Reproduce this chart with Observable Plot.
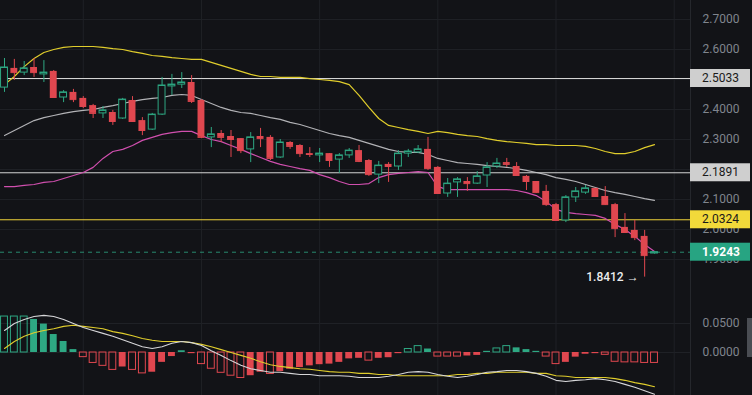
<!DOCTYPE html>
<html><head><meta charset="utf-8">
<script src="https://cdn.jsdelivr.net/npm/d3@7"></script>
<script src="https://cdn.jsdelivr.net/npm/@observablehq/plot@0.6"></script>
<style>
html,body{margin:0;padding:0;background:#121317;}
#wrap{position:relative;width:752px;height:395px;overflow:hidden;background:#121317;}
#wrap svg{position:absolute;left:0;display:block;}
</style></head><body><div id="wrap"></div>
<script>
// ---- data ----
const open  = [2.473,2.537,2.523,2.540,2.517,2.527,2.440,2.457,2.437,2.413, 2.387,2.390,2.370,2.430,2.363,2.333,2.383,2.477,2.483,2.490, 2.430,2.307,2.320,2.310,2.303,2.267,2.310,2.307,2.240,2.290, 2.280,2.253,2.247,2.253,2.233,2.247,2.263,2.230,2.183,2.217, 2.210,2.253,2.257,2.267,2.207,2.120,2.157,2.160,2.153,2.180, 2.210,2.223,2.210,2.177,2.160,2.127,2.083,2.030,2.107,2.123, 2.137,2.110,2.083,2.007,1.997,1.977,1.920];
const high  = [2.570,2.567,2.560,2.570,2.563,2.530,2.463,2.467,2.443,2.417, 2.410,2.397,2.437,2.443,2.373,2.387,2.507,2.517,2.523,2.513, 2.433,2.340,2.330,2.330,2.303,2.323,2.337,2.313,2.300,2.293, 2.283,2.273,2.270,2.253,2.253,2.270,2.280,2.233,2.227,2.223, 2.263,2.267,2.280,2.307,2.210,2.170,2.173,2.173,2.193,2.223, 2.237,2.237,2.223,2.180,2.160,2.147,2.087,2.113,2.140,2.147, 2.137,2.143,2.087,2.053,2.030,1.997,1.925];
const low   = [2.457,2.497,2.513,2.507,2.490,2.437,2.423,2.423,2.403,2.370, 2.370,2.347,2.367,2.357,2.313,2.330,2.380,2.447,2.470,2.420, 2.303,2.273,2.290,2.240,2.253,2.223,2.273,2.230,2.237,2.267, 2.240,2.240,2.223,2.207,2.187,2.237,2.223,2.177,2.153,2.157, 2.197,2.240,2.253,2.197,2.117,2.107,2.107,2.127,2.150,2.140, 2.203,2.207,2.177,2.130,2.120,2.077,2.027,2.023,2.090,2.117, 2.107,2.080,1.973,1.987,1.963,1.8412,1.918];
const close = [2.540,2.523,2.537,2.523,2.523,2.440,2.457,2.433,2.410,2.387, 2.397,2.360,2.433,2.360,2.330,2.383,2.480,2.483,2.490,2.427, 2.307,2.317,2.307,2.300,2.263,2.307,2.303,2.237,2.290,2.277, 2.253,2.250,2.253,2.230,2.247,2.263,2.227,2.183,2.213,2.210, 2.253,2.260,2.267,2.203,2.120,2.153,2.167,2.153,2.177,2.207, 2.220,2.217,2.180,2.160,2.123,2.083,2.030,2.107,2.127,2.137, 2.110,2.083,2.003,1.990,1.973,1.913,1.9243];

const bbUpper = [2.483,2.510,2.543,2.570,2.590,2.600,2.607,2.610,2.610,2.610, 2.607,2.603,2.600,2.593,2.587,2.580,2.577,2.573,2.570,2.567, 2.567,2.557,2.547,2.537,2.527,2.517,2.510,2.510,2.507,2.507, 2.507,2.503,2.500,2.497,2.493,2.483,2.447,2.407,2.370,2.347, 2.340,2.333,2.327,2.320,2.327,2.323,2.317,2.313,2.310,2.303, 2.297,2.293,2.290,2.287,2.283,2.283,2.280,2.280,2.280,2.277, 2.270,2.260,2.253,2.253,2.260,2.273,2.283];
const bbMid   = [2.313,2.330,2.347,2.363,2.373,2.380,2.387,2.393,2.397,2.400, 2.407,2.413,2.420,2.427,2.433,2.437,2.440,2.447,2.450,2.447, 2.433,2.420,2.407,2.397,2.390,2.387,2.380,2.373,2.367,2.357, 2.350,2.340,2.330,2.320,2.313,2.307,2.297,2.287,2.277,2.267, 2.260,2.257,2.257,2.250,2.237,2.230,2.223,2.220,2.217,2.213, 2.210,2.207,2.203,2.197,2.190,2.183,2.173,2.167,2.160,2.150, 2.140,2.130,2.123,2.117,2.110,2.103,2.097];
const bbLower = [2.143,2.143,2.147,2.150,2.157,2.160,2.170,2.180,2.190,2.207, 2.237,2.260,2.267,2.280,2.297,2.307,2.317,2.323,2.327,2.327, 2.313,2.300,2.293,2.280,2.267,2.253,2.240,2.227,2.217,2.210, 2.203,2.197,2.183,2.173,2.160,2.150,2.150,2.153,2.173,2.183, 2.187,2.190,2.193,2.190,2.143,2.133,2.133,2.133,2.133,2.133, 2.133,2.133,2.130,2.123,2.113,2.093,2.067,2.057,2.053,2.050, 2.047,2.037,2.017,2.000,1.977,1.950,1.927];

const macdLine   = [0.038,0.050,0.057,0.062,0.064,0.062,0.057,0.050,0.043,0.038, 0.033,0.028,0.022,0.016,0.010,0.007,0.010,0.016,0.019,0.017, 0.012,0.003,-0.005,-0.014,-0.022,-0.028,-0.031,-0.034,-0.034,-0.036, -0.038,-0.038,-0.040,-0.040,-0.040,-0.041,-0.043,-0.043,-0.043,-0.041, -0.038,-0.034,-0.033,-0.034,-0.038,-0.041,-0.043,-0.041,-0.038,-0.034, -0.033,-0.031,-0.031,-0.033,-0.036,-0.041,-0.048,-0.050,-0.048,-0.047, -0.045,-0.047,-0.050,-0.055,-0.060,-0.066,-0.072];
const signalLine = [0.007,0.019,0.028,0.034,0.038,0.041,0.045,0.047,0.045,0.043, 0.041,0.036,0.033,0.029,0.024,0.021,0.019,0.019,0.019,0.017, 0.014,0.010,0.005,0.000,-0.005,-0.010,-0.016,-0.021,-0.024,-0.026, -0.028,-0.029,-0.031,-0.033,-0.034,-0.034,-0.036,-0.036,-0.038,-0.038, -0.040,-0.040,-0.040,-0.040,-0.040,-0.040,-0.038,-0.038,-0.036,-0.036, -0.034,-0.034,-0.034,-0.034,-0.036,-0.036,-0.040,-0.041,-0.043,-0.043, -0.043,-0.043,-0.045,-0.048,-0.052,-0.055,-0.059];
const macdHist   = [0.062,0.062,0.062,0.057,0.049,0.031,0.019,0.005,-0.008,-0.018, -0.023,-0.030,-0.025,-0.030,-0.036,-0.034,-0.017,-0.007,0.003,-0.002, -0.020,-0.028,-0.035,-0.040,-0.044,-0.040,-0.034,-0.037,-0.033,-0.029, -0.026,-0.023,-0.021,-0.020,-0.017,-0.011,-0.010,-0.014,-0.010,-0.009, -0.002,0.006,0.011,0.006,-0.007,-0.007,-0.007,-0.006,-0.005,0.002, 0.007,0.011,0.008,0.005,0.002,-0.007,-0.020,-0.017,-0.008,-0.003, -0.002,-0.004,-0.016,-0.017,-0.017,-0.018,-0.018];

const priceGrid   = [2.7,2.6,2.5,2.4,2.3,2.2,2.1,2.0,1.9];
const priceLabels = [2.7,2.6,2.4,2.3,2.1,2.0,1.9];   // 2.5000 and 2.2000 are hidden under level boxes
const macdTicks   = [0.05,0];
const gridIdx     = [8,20,32,44,56,68];
const levelValues = [2.5033,2.1891,2.0324,1.9243];
const levelLabels = ["2.5033","2.1891","2.0324","1.9243"];
const lowValue = 1.8412, lowIndex = 65, lowLabel = "1.8412 →";

// ---- styles ----
const W = 752, MR = 62;
const BG = "#121317", RED = "#e0474f", GREEN = "#2ea883", GRID = "#1f2126", TXT = "#80858e";
const levelFill = ["#cfcfcf","#cfcfcf","#f2d93a","#27a482"];
const levelText = ["#1a1a1a","#1a1a1a","#1a1a1a","#ffffff"];
const levelStroke = ["#d4d4d4","#d4d4d4","#f0d43a","#2ea883"];
const FONT = "Roboto, Arial, sans-serif";

const candles = open.map((o,i)=>({i,o,h:high[i],l:low[i],c:close[i],up:close[i]>=o}));
const ups = candles.filter(d=>d.up), downs = candles.filter(d=>!d.up);
const series = (arr)=>arr.map((v,i)=>({i,v}));
const hist = macdHist.map((v,i)=>({i,v,hollow: i===0 || Math.abs(v) >= Math.abs(macdHist[i-1])}));
const hw = 0.35;
const levels = levelValues.map((v,k)=>({v,k}));

const xOpt = {type:"linear",domain:[0,66],range:[4,654],axis:null};

const main = Plot.plot({
  width: W, height: 300, marginTop:0, marginBottom:0, marginLeft:0, marginRight:MR,
  style:{background:"transparent", fontFamily:FONT, fontSize:"12px", overflow:"visible"},
  x: xOpt,
  y: {domain:[1.76333,2.76333], range:[300,0], axis:null},
  marks: [
    Plot.ruleY(priceGrid,{stroke:GRID}),
    Plot.ruleX(gridIdx,{stroke:GRID}),
    Plot.ruleY(levels.filter(d=>d.k<3),{y:"v",stroke:d=>levelStroke[d.k],strokeWidth:1}),
    Plot.ruleY(levels.filter(d=>d.k===3),{y:"v",stroke:GREEN,strokeOpacity:0.8,strokeDasharray:"4,4"}),
    Plot.line(series(bbUpper),{x:"i",y:"v",stroke:"#e0cd2c",strokeWidth:1.2}),
    Plot.line(series(bbMid),{x:"i",y:"v",stroke:"#cfcfd2",strokeWidth:1.1,strokeOpacity:0.85}),
    Plot.line(series(bbLower),{x:"i",y:"v",stroke:"#d04fae",strokeWidth:1.2}),
    Plot.ruleX(downs,{x:"i",y1:"l",y2:"h",stroke:RED}),
    Plot.ruleX(ups,{x:"i",y1:"l",y2:"h",stroke:GREEN}),
    Plot.rect(downs,{x1:d=>d.i-hw,x2:d=>d.i+hw,y1:"o",y2:"c",fill:RED}),
    Plot.ruleY(downs,{y:"c",x1:d=>d.i-hw,x2:d=>d.i+hw,stroke:RED}),
    Plot.rect(ups,{x1:d=>d.i-hw,x2:d=>d.i+hw,y1:"o",y2:"c",fill:BG,stroke:GREEN,strokeWidth:1}),
    Plot.ruleY(ups,{y:"c",x1:d=>d.i-hw,x2:d=>d.i+hw,stroke:GREEN}),
    Plot.text(priceLabels,{y:d=>d,text:d=>d.toFixed(4),frameAnchor:"right",dx:12,textAnchor:"start",fill:TXT,fontSize:12}),
    Plot.text([{i:lowIndex,v:lowValue}],{x:"i",y:"v",text:()=>lowLabel,dx:-6,textAnchor:"end",fill:"#ececec",fontSize:12,fontWeight:500})
  ]
});

const macd = Plot.plot({
  width: W, height: 95, marginTop:0, marginBottom:0, marginLeft:0, marginRight:MR,
  style:{background:"transparent", fontFamily:FONT, fontSize:"12px", overflow:"visible"},
  x: xOpt,
  y: {domain:[-0.07414,0.08966], range:[95,0], axis:null},
  marks: [
    Plot.ruleY(macdTicks,{stroke:GRID}),
    Plot.ruleX(gridIdx,{stroke:GRID}),
    Plot.rect(hist.filter(d=>d.v>=0 && !d.hollow),{x1:d=>d.i-hw,x2:d=>d.i+hw,y1:0,y2:"v",fill:GREEN}),
    Plot.rect(hist.filter(d=>d.v>=0 && d.hollow),{x1:d=>d.i-hw,x2:d=>d.i+hw,y1:0,y2:"v",fill:"none",stroke:GREEN}),
    Plot.rect(hist.filter(d=>d.v<0 && !d.hollow),{x1:d=>d.i-hw,x2:d=>d.i+hw,y1:0,y2:"v",fill:RED}),
    Plot.rect(hist.filter(d=>d.v<0 && d.hollow),{x1:d=>d.i-hw,x2:d=>d.i+hw,y1:0,y2:"v",fill:"none",stroke:RED}),
    Plot.line(series(signalLine),{x:"i",y:"v",stroke:"#e0cd2c",strokeWidth:1.1}),
    Plot.line(series(macdLine),{x:"i",y:"v",stroke:"#d6d6d8",strokeWidth:1.1}),
    Plot.text(macdTicks,{y:d=>d,text:d=>d.toFixed(4),frameAnchor:"right",dx:12,textAnchor:"start",fill:TXT,fontSize:12})
  ]
});

const wrap = document.getElementById("wrap");
main.style.top = "0px"; macd.style.top = "300px";
wrap.appendChild(main); wrap.appendChild(macd);

// axis separator and price-level labels, positioned with Plot's own y scale
const sepX = W - MR;
[[main,300],[macd,95]].forEach(([svg,h])=>{
  d3.select(svg).append("line").attr("x1",sepX+0.5).attr("x2",sepX+0.5).attr("y1",0).attr("y2",h).attr("stroke","#25272c");
});
const ys = main.scale("y");
const g = d3.select(main).append("g").attr("text-anchor","start");
levels.forEach(d=>{
  const y = ys.apply(d.v);
  g.append("rect").attr("x",sepX).attr("y",y-9).attr("width",60).attr("height",18).attr("fill",levelFill[d.k]);
  g.append("text").attr("x",sepX+12).attr("y",y).attr("dy","0.35em").attr("text-anchor","start")
    .attr("fill",levelText[d.k]).attr("font-size",12).attr("font-family",FONT)
    .attr("font-weight",d.k===3?700:400).text(levelLabels[d.k]);
});
// cut-off label box at the far right of the MACD pane
const ym = macd.scale("y");
d3.select(macd).append("rect").attr("x",W-5).attr("y",ym.apply(0.05)-5).attr("width",5).attr("height",ym.apply(0)-ym.apply(0.05)+10).attr("fill","#4a4d53");
</script>
</body></html>
